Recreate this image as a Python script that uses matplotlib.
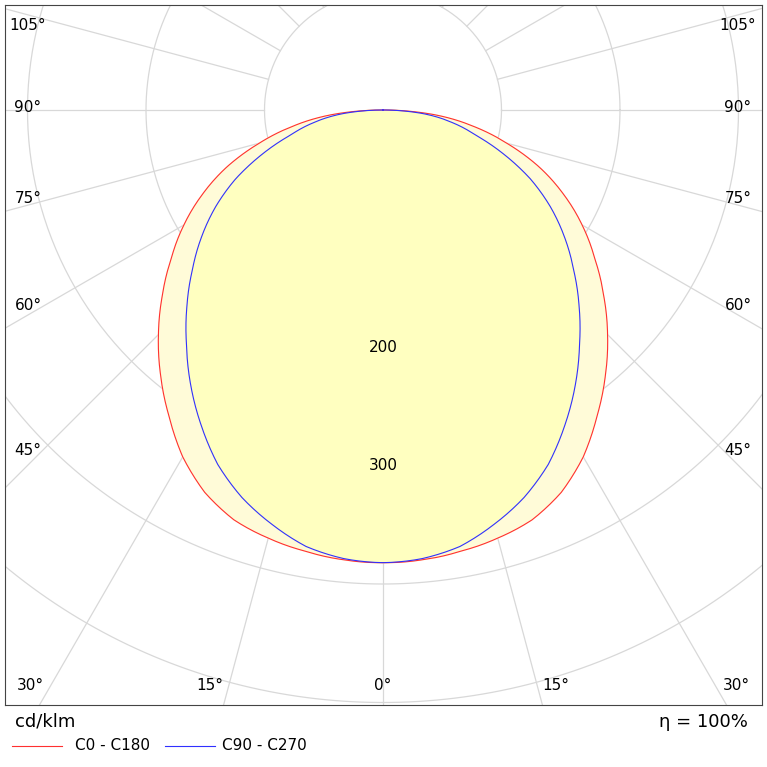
import numpy as np
import matplotlib
matplotlib.use("Agg")
import matplotlib.pyplot as plt
from matplotlib.lines import Line2D

gamma_deg = [0, 5, 10, 15, 20, 25, 30, 35, 40, 45, 50, 55, 60, 65, 70, 75, 80, 85, 90]
c0_c180 = [382, 381, 378, 374, 368, 356, 338, 315, 292, 268, 243, 218, 194, 168, 140, 108, 76, 42, 0]
c90_c270 = [382, 380, 374, 362, 348, 330, 307, 283, 258, 234, 210, 187, 163, 137, 108, 80, 58, 33, 0]
rings = [100, 200, 300, 400, 500, 600]
ring_labels = ["200", "300"]
angle_labels = ["0°", "15°", "30°", "45°", "60°", "75°", "90°", "105°"]

S = 1.185  # px per cd
W = H = 767
fig = plt.figure(figsize=(W/100, H/100), dpi=100)
ax = fig.add_axes([5/W, (H-705)/H, 757/W, 700/H])
ax.set_xlim((5-383)/S, (762-383)/S)
ax.set_ylim(-(705-110)/S, (110-5)/S)
ax.set_xticks([]); ax.set_yticks([])
for s in ax.spines.values():
    s.set_linewidth(0.8); s.set_color("#444444")

gc = "#d8d8d8"
t = np.linspace(0, 2*np.pi, 400)
for r in rings:
    ax.plot(r*np.cos(t), r*np.sin(t), color=gc, lw=0.9, zorder=1)
for a in range(-180, 181, 15):
    g = np.radians(a)
    ax.plot([100*np.sin(g), 900*np.sin(g)], [-100*np.cos(g), -900*np.cos(g)], color=gc, lw=0.9, zorder=1)

def curve(vals):
    g = np.radians(np.array(gamma_deg))
    v = np.array(vals, float)
    # smooth drawing: interpolate the ratio to cos(gamma) on a fine grid
    gf = np.radians(np.linspace(0, 90, 361))
    ratio = v[:-1] / np.cos(g[:-1])
    ratio = np.append(ratio, ratio[-1])
    vf = np.interp(gf, g, ratio) * np.cos(gf)
    gg = np.concatenate([-gf[::-1], gf[1:]])
    vv = np.concatenate([vf[::-1], vf[1:]])
    return vv*np.sin(gg), -vv*np.cos(gg)

xr, yr = curve(c0_c180)
xb, yb = curve(c90_c270)
ax.fill(xr, yr, color="#fffbd8", zorder=2)
ax.fill(xb, yb, color="#ffffc0", zorder=3)
ax.plot(xr, yr, color="#ff3030", lw=0.8, zorder=4)
ax.plot(xb, yb, color="#3030ff", lw=0.8, zorder=5)

for r, lab in zip([200, 300], ring_labels):
    ax.text(0, -r, lab, ha="center", va="center", fontsize=11, zorder=6)

def px(x, y):
    return (x-383)/S, (110-y)/S
kw = dict(fontsize=11, ha="center", va="center", zorder=6)
ax.text(*px(383, 685), angle_labels[0], **kw)
for x, i in [(210, 1), (30, 2)]:
    ax.text(*px(x, 685), angle_labels[i], **kw)
    ax.text(*px(766-x, 685), angle_labels[i], **kw)
for y, i in [(450, 3), (305, 4), (198, 5), (107, 6), (25, 7)]:
    ax.text(*px(28, y), angle_labels[i], **kw)
    ax.text(*px(738, y), angle_labels[i], **kw)

fig.text(15/W, 1-722/H, "cd/klm", fontsize=13, va="center")
fig.text(748/W, 1-722/H, "η = 100%", fontsize=13, va="center", ha="right")
fig.add_artist(Line2D([12/W, 62/W], [1-746/H]*2, color="#ff3030", lw=0.8))
fig.text(75/W, 1-746/H, "C0 - C180", fontsize=11, va="center")
fig.add_artist(Line2D([165/W, 215/W], [1-746/H]*2, color="#3030ff", lw=0.8))
fig.text(222/W, 1-746/H, "C90 - C270", fontsize=11, va="center")
fig.savefig("out.png", dpi=100, facecolor="white")
